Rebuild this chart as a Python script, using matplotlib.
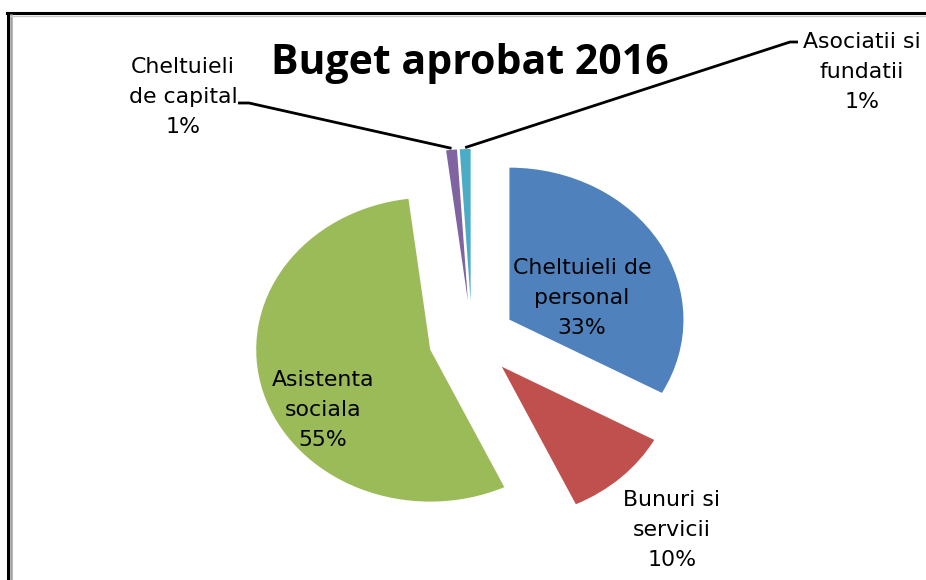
import matplotlib
matplotlib.use('Agg')
import matplotlib.pyplot as plt
from matplotlib.lines import Line2D
import numpy as np

# ---- data ----
categories = ['Cheltuieli de personal', 'Bunuri si servicii', 'Asistenta sociala',
              'Cheltuieli de capital', 'Asociatii si fundatii']
label_texts = ['Cheltuieli de\npersonal', 'Bunuri si\nservicii', 'Asistenta\nsociala',
               'Cheltuieli\nde capital', 'Asociatii si\nfundatii']
values = [33, 10, 55, 1, 1]
colors = ['#4F81BD', '#C0504D', '#9BBB59', '#8064A2', '#4BACC6']
title = 'Buget aprobat 2016'

W, H = 926, 580
fig = plt.figure(figsize=(W / 100, H / 100), dpi=100)
ax = fig.add_axes([0, 0, 1, 1])

# layout (pixels): pie centre and radii (image is horizontally stretched)
CX, CY = 472, 339
RX, RY = 174, 152

wedges, _ = ax.pie(values, colors=colors, startangle=90, counterclock=False,
                   explode=[0.25] * len(values), wedgeprops=dict(linewidth=0))
ax.set_aspect('auto')
ax.set_xlim(-CX / RX, (W - CX) / RX)
ax.set_ylim(-(H - CY) / RY, CY / RY)
ax.axis('off')


def px(x, y):
    return ((x - CX) / RX, (CY - y) / RY)


total = sum(values)
label_pos = [(582, 298), (672, 530), (323, 410), (183, 97), (862, 72)]
for txt, v, (lx, ly) in zip(label_texts, values, label_pos):
    dx, dy = px(lx, ly)
    ax.text(dx, dy, f"{txt}\n{v / total * 100:.0f}%", ha='center', va='center',
            fontsize=15.8, family='DejaVu Sans', color='#000000', linespacing=1.62)


def outer_point(w):
    mid = np.deg2rad((w.theta1 + w.theta2) / 2)
    cx, cy = w.center
    return cx + w.r * np.cos(mid), cy + w.r * np.sin(mid)


# leader lines for small slices
p_cap = outer_point(wedges[3])
a1, a2 = px(238, 103), px(249, 103)
ax.plot([a1[0], a2[0], p_cap[0]], [a1[1], a2[1], p_cap[1] + 0.01], color='black', lw=2.0,
        solid_capstyle='butt')
p_as = outer_point(wedges[4])
b1, b2 = px(790, 42), px(798, 42)
ax.plot([p_as[0], b1[0], b2[0]], [p_as[1] + 0.01, b1[1], b2[1]], color='black', lw=2.0,
        solid_capstyle='butt')

tx, ty = px(470, 74)
ax.text(tx, ty, title, ha='center', va='baseline', fontsize=29.5, family='Open Sans',
        fontweight='bold', color='black')

# frame (black outer + grey inner), right/bottom cropped off
def fline(xs, ys, **kw):
    fig.add_artist(Line2D([x / W for x in xs], [1 - y / H for y in ys],
                          transform=fig.transFigure, **kw))

fline([8, 8], [13, H + 5], color='black', lw=2.2)
fline([7, W + 5], [13, 13], color='black', lw=2.2)
fline([11, 11], [15, H + 5], color='#a0a0a0', lw=1.8)
fline([11, W + 5], [15.5, 15.5], color='#c8c8c8', lw=1.0)

fig.savefig('out.png', dpi=100)
